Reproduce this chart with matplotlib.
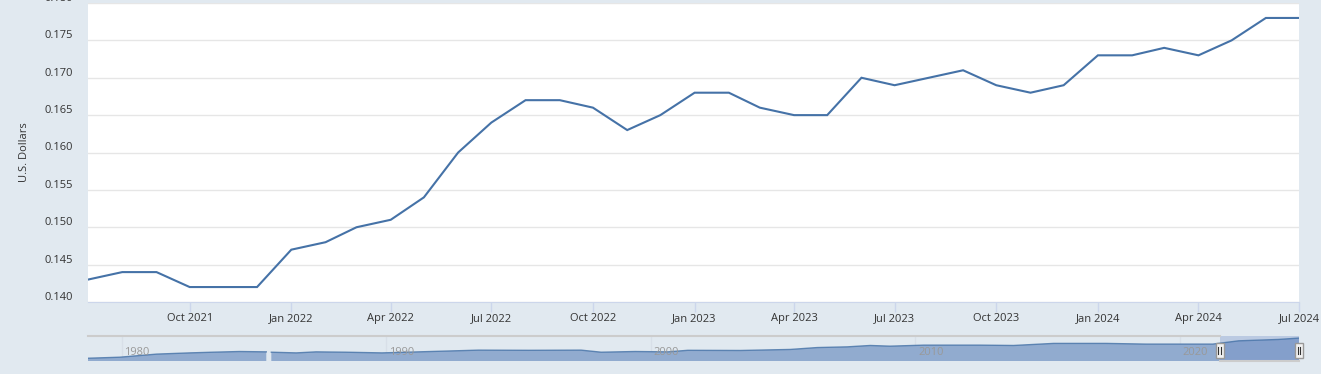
import numpy as np
import pandas as pd
import matplotlib
matplotlib.use("Agg")
from matplotlib import pyplot as plt
import matplotlib.dates as mdates
from matplotlib.patches import Rectangle
from matplotlib.transforms import ScaledTranslation

# monthly series, Jul 2021 - Jul 2024
months = pd.date_range("2021-07-01", "2024-07-01", freq="MS")
price = [0.143, 0.144, 0.144, 0.142, 0.142, 0.142,
         0.147, 0.148, 0.150, 0.151, 0.154, 0.160,
         0.164, 0.167, 0.167, 0.166, 0.163, 0.165,
         0.168, 0.168, 0.166, 0.165, 0.165, 0.170,
         0.169, 0.170, 0.171, 0.169, 0.168, 0.169,
         0.173, 0.173, 0.174, 0.173, 0.175, 0.178,
         0.178]

y_ticks = [0.140, 0.145, 0.150, 0.155, 0.160, 0.165, 0.170, 0.175, 0.180]

# navigator (full history), read roughly, decimal years
nav_years = [1978.72, 1979.92, 1981.32, 1982.56, 1983.43, 1984.44, 1985.46,
             1985.55,
             1985.65, 1986.59, 1987.34, 1988.47, 1989.83, 1991.22, 1993.48,
             1995.37, 1997.36, 1998.12, 1999.40, 2000.64, 2001.39, 2003.39,
             2005.27, 2006.29, 2007.42, 2008.29, 2009.04, 2010.32, 2011.30,
             2012.43, 2013.71, 2015.22, 2017.21, 2018.72, 2021.24, 2022.22,
             2023.73, 2024.50]
nav_values = [0.061, 0.067, 0.085, 0.092, 0.096, 0.100, 0.098,
              np.nan,
              0.096, 0.092, 0.098, 0.096, 0.092, 0.098, 0.108,
              0.107, 0.108, 0.096, 0.100, 0.098, 0.107, 0.106,
              0.112, 0.123, 0.127, 0.135, 0.131, 0.137, 0.137,
              0.137, 0.135, 0.147, 0.147, 0.143, 0.143, 0.162,
              0.170, 0.178]
nav_labels = [1980, 1990, 2000, 2010, 2020]

bg = "#e1e9f0"
line_c = "#4572a7"
W, H = 1321, 374

fig = plt.figure(figsize=(W / 100, H / 100), dpi=100, facecolor=bg)
plt.rcParams["font.family"] = ["Open Sans", "DejaVu Sans"]

def box(x0, y0, x1, y1):
    return [x0 / W, 1 - y1 / H, (x1 - x0) / W, (y1 - y0) / H]

ax = fig.add_axes(box(88, 3, 1299, 302))
ax.set_facecolor("white")
ax.plot(months, price, color=line_c, lw=1.5, solid_joinstyle="miter")
ax.set_xlim(months[0], months[-1])
ax.set_ylim(0.140, 0.180)
ax.set_yticks(y_ticks)
ax.set_yticklabels(["%.3f" % v for v in y_ticks])
ax.grid(axis="y", color="#e6e6e6", lw=1)
ax.set_axisbelow(True)
for s in ["top", "right", "left"]:
    ax.spines[s].set_visible(False)
ax.spines["bottom"].set_color("#ccd6eb")
ax.xaxis.set_major_formatter(mdates.DateFormatter("%b %Y"))
ticks = [t for t in months if t.month in (1, 4, 7, 10) and t != months[0]]
ax.set_xticks(ticks)
ax.tick_params(axis="x", colors="#ccd6eb", length=7, width=1, labelcolor="#333333",
               labelsize=8, pad=1)
ax.tick_params(axis="y", length=0, labelcolor="#333333", labelsize=8, pad=11)
for lab in ax.get_yticklabels():
    lab.set_transform(lab.get_transform() + ScaledTranslation(0, 0.06, fig.dpi_scale_trans))
ax.set_ylabel("U.S. Dollars", color="#333333", fontsize=8, labelpad=10)

# navigator
nav = fig.add_axes(box(88, 336, 1299, 361))
nav.set_facecolor(bg)
nav.fill_between(nav_years, nav_values, 0, color="#91abcf", lw=0)
nav.plot(nav_years, nav_values, color=line_c, lw=1, alpha=0.8)
nav.set_xlim(1978.72, 2024.5)
nav.set_ylim(0.045, 0.19)
nav.set_xticks([])
nav.set_yticks([])
for s in nav.spines.values():
    s.set_visible(False)
for yr in nav_labels:
    nav.axvline(yr, color="#d8dfe8", lw=1, zorder=0)
    nav.text(yr + 0.1, 0.093, str(yr), color="#999999", fontsize=8, va="center", ha="left")
sel0 = 2021.5
nav.axvspan(sel0, 2024.5, color="#6685c2", alpha=0.3, lw=0)
nav.plot([1978.72, sel0], [0.19, 0.19], color="#cccccc", lw=1.5, clip_on=False)
nav.plot([sel0, 2024.5], [0.045, 0.045], color="#cccccc", lw=1.5, clip_on=False)
for hx in [sel0, 2024.5]:
    rw = 8 / (1211 / (2024.5 - 1978.72))
    nav.add_patch(Rectangle((hx - rw / 2, 0.063), rw, 0.087, facecolor="#f2f2f2",
                            edgecolor="#999999", lw=1, clip_on=False, zorder=5))
    for dx in [-0.3, 0.3]:
        off = dx * rw / 2 * 1.2
        nav.plot([hx + off, hx + off], [0.085, 0.128], color="#333333", lw=0.8,
                 clip_on=False, zorder=6)

fig.savefig("out.png", dpi=100, facecolor=bg)
